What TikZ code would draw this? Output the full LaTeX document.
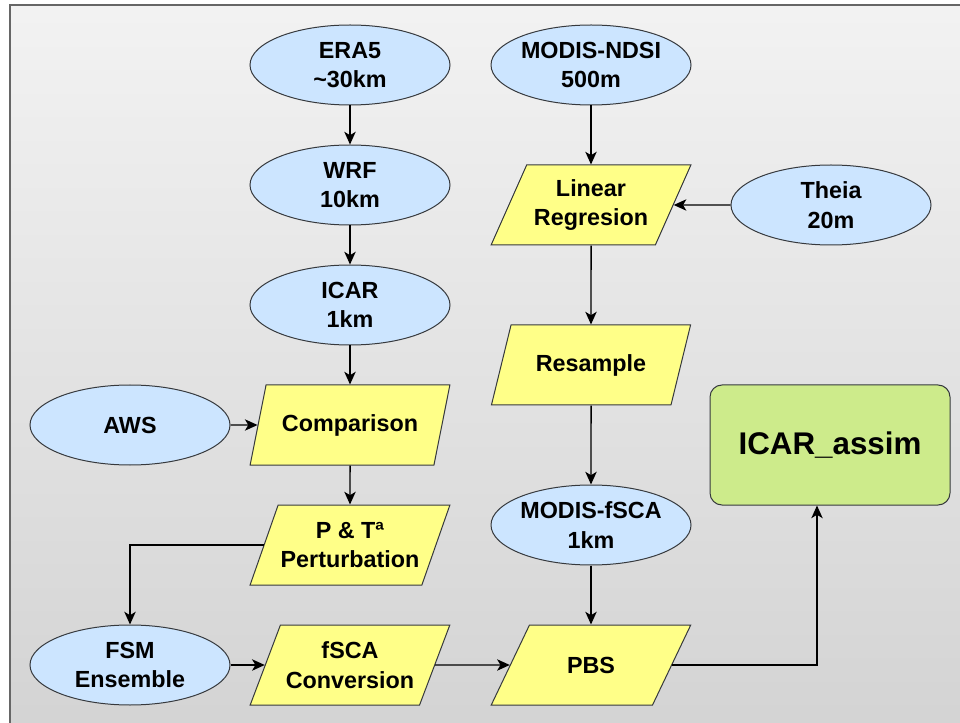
\documentclass[tikz,border=0pt]{standalone}
\usepackage{fontspec}
\setmainfont{Liberation Sans}
\usetikzlibrary{shapes.geometric,arrows.meta}

\definecolor{bluefill}{HTML}{CCE5FF}
\definecolor{yellowfill}{HTML}{FFFF88}
\definecolor{greenfill}{HTML}{CDEB8B}
\definecolor{edgegray}{HTML}{36393D}

\tikzset{
  source/.style={ellipse, draw=edgegray, fill=bluefill, line width=0.75pt,
    minimum width=150pt, minimum height=60pt, inner xsep=-30pt, inner ysep=0pt,
    align=center, font=\bfseries\fontsize{17.5}{22}\selectfont},
  process/.style={trapezium, trapezium left angle=63.4, trapezium right angle=116.6,
    trapezium stretches=true, draw=edgegray, fill=yellowfill, line width=0.75pt,
    minimum width=150pt, minimum height=60pt, inner xsep=-8pt, inner ysep=0pt,
    align=center, font=\bfseries\fontsize{17.5}{22}\selectfont},
  result/.style={rectangle, rounded corners=9pt, draw=edgegray, fill=greenfill,
    line width=0.75pt, minimum width=180pt, minimum height=90pt,
    font=\bfseries\fontsize{23.5}{28}\selectfont},
  flow/.style={-{Stealth[length=9.5pt,width=8.5pt,inset=2.5pt]}, line width=1.1pt}
}

\begin{document}
\begin{tikzpicture}[x=0.75pt, y=-0.75pt]

  \useasboundingbox (0,0) rectangle (960,723);
  \shade[top color=black!5, bottom color=black!17] (10,5) rectangle (962,725);
  \draw[black!60, line width=1.5pt] (10,725) -- (10,5) -- (962,5);

  % left column
  \node[source] (era5) at (350,65) {ERA5\\\textasciitilde30km};
  \node[source] (wrf) at (350,185) {WRF\\10km};
  \node[source] (icar) at (350,305) {ICAR\\1km};
  \node[process] (comp) at (350,425) {Comparison};
  \node[process] (pert) at (350,545) {P \& Tª\\Perturbation};
  \node[source] (aws) at (130,425) {AWS};
  \node[source] (fsm) at (130,665) {FSM\\Ensemble};
  \node[process] (fconv) at (350,665) {fSCA\\Conversion};

  % right column
  \node[source] (ndsi) at (591,65) {MODIS-NDSI\\500m};
  \node[process] (linreg) at (591,205) {Linear\\Regresion};
  \node[source] (theia) at (831,205) {Theia\\20m};
  \node[process] (resamp) at (591,365) {Resample};
  \node[source] (mfsca) at (591,525) {MODIS-fSCA\\1km};
  \node[process] (pbs) at (591,665) {PBS};
  \node[result] (assim) at (830,445) {ICAR\_assim};

  \draw[flow] (era5) -- (wrf);
  \draw[flow] (wrf) -- (icar);
  \draw[flow] (icar) -- (comp);
  \draw[flow] (aws) -- (comp);
  \draw[flow] (comp) -- (pert);
  \draw[flow] (pert.west) -| (fsm.north);
  \draw[flow] (fsm) -- (fconv);
  \draw[flow] (fconv) -- (pbs);

  \draw[flow] (ndsi) -- (linreg);
  \draw[flow] (theia) -- (linreg);
  \draw[flow] (linreg) -- (resamp);
  \draw[flow] (resamp) -- (mfsca);
  \draw[flow] (mfsca) -- (pbs);
  \draw[flow] (pbs.east) -| ([xshift=-9.75pt]assim.south);

\end{tikzpicture}
\end{document}
